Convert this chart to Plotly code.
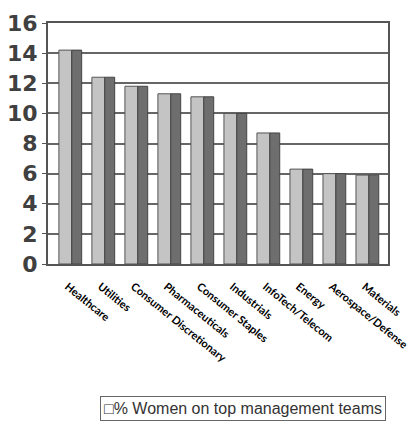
import plotly.graph_objects as go

categories = ["Healthcare", "Utilities", "Consumer Discretionary", "Pharmaceuticals",
              "Consumer Staples", "Industrials", "InfoTech/Telecom", "Energy",
              "Aerospace/Defense", "Materials"]
values = [14.2, 12.4, 11.8, 11.3, 11.1, 10.0, 8.7, 6.3, 6.0, 5.9]
y_ticks = [0, 2, 4, 6, 8, 10, 12, 14, 16]
series_name = "% Women on top management teams"

fig = go.Figure()
# front face
fig.add_trace(go.Bar(
    x=list(range(len(categories))), y=values, name=series_name,
    width=0.39, offset=-0.17,
    marker=dict(color="#c4c4c4", line=dict(color="#555555", width=1)),
    showlegend=False,
))
# side face (3D depth)
fig.add_trace(go.Bar(
    x=list(range(len(categories))), y=values, name="side",
    width=0.3, offset=0.22,
    marker=dict(color="#6e6e6e", line=dict(color="#444444", width=1)),
    showlegend=False,
))

fig.update_layout(
    width=412, height=425,
    margin=dict(l=48, r=24, t=23, b=161),
    paper_bgcolor="white", plot_bgcolor="white",
    barmode="overlay",
    font=dict(family="Liberation Sans, Arial", color="#333333"),
    xaxis=dict(
        range=[-0.5, 9.8], automargin=False,
        tickmode="array", tickvals=list(range(len(categories))), ticktext=categories,
        tickangle=39, ticklabelstandoff=10, ticklabelshift=3,
        ticklabeloverflow="allow",
        tickfont=dict(family="Lato", size=11, color="#000000", weight="bold"),
        showgrid=False, showline=True, linecolor="#555555", linewidth=2,
        mirror=True, ticks="", zeroline=False,
    ),
    yaxis=dict(
        range=[0, 16], tickvals=y_ticks, automargin=False,
        tickfont=dict(family="DejaVu Sans", size=22, color="#404040", weight="bold"),
        showgrid=True, gridcolor="#666666", gridwidth=1.5,
        showline=True, linecolor="#555555", linewidth=2, mirror=True,
        ticks="outside", ticklen=4, tickcolor="#555555", zeroline=False,
    ),
    annotations=[dict(
        text="\u25a1" + series_name,
        xref="paper", yref="paper", x=0.153, y=-0.548,
        xanchor="left", yanchor="top", showarrow=False,
        font=dict(family="Liberation Sans", size=16, color="#333333"),
        bordercolor="#666666", borderwidth=1, borderpad=3,
    )],
)

fig.write_html("out.html")
